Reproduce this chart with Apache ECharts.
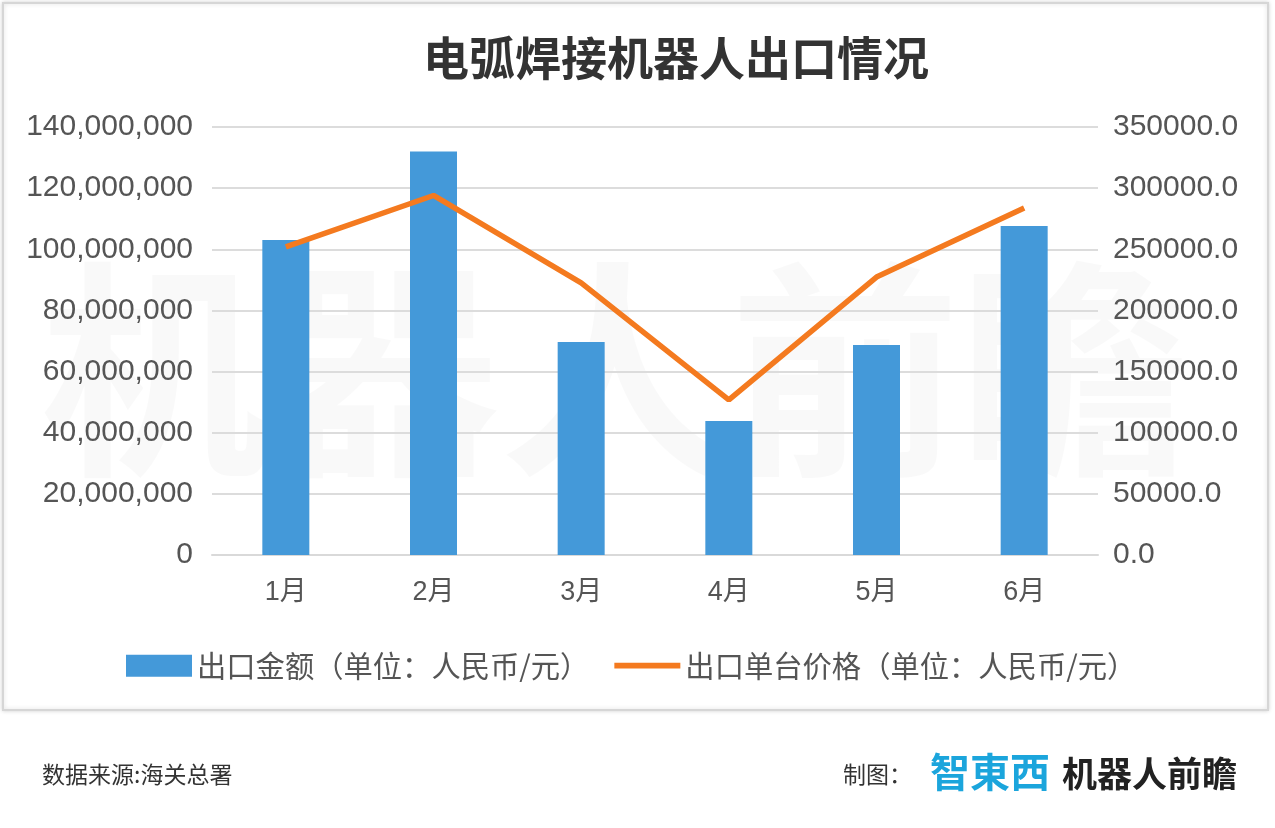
<!DOCTYPE html>
<html>
<head>
<meta charset="utf-8">
<script src="https://cdn.jsdelivr.net/npm/echarts@6/dist/echarts.min.js"></script>
<style>
  html, body { margin: 0; padding: 0; background: #fff; }
  #chart { width: 1275px; height: 828px; }
</style>
</head>
<body>
<div id="chart"></div>
<script>
const months = ['1月', '2月', '3月', '4月', '5月', '6月']
const exportAmount = [103000000, 132000000, 69700000, 43800000, 68700000, 107600000]
const unitPrice = [252000, 294000, 222500, 126800, 227300, 283800]
const amountName = '出口金额（单位：人民币/元）'
const priceName = '出口单台价格（单位：人民币/元）'

const FONT = '"Liberation Sans", "Noto Sans CJK SC", sans-serif'
const CJK = '"Noto Sans CJK SC", sans-serif'

const chart = echarts.init(document.getElementById('chart'))

const option = {
  backgroundColor: '#fff',
  animation: false,
  textStyle: { fontFamily: FONT },
  title: {
    text: '电弧焊接机器人出口情况',
    left: 418,
    top: 30,
    textStyle: { fontFamily: CJK, fontSize: 46, fontWeight: 'bold', color: '#333' }
  },
  grid: { left: 212, right: 177, top: 127, bottom: 273, containLabel: false },
  legend: {
    top: 646,
    left: 121,
    itemGap: 25,
    itemWidth: 66,
    itemHeight: 22,
    textStyle: { fontFamily: CJK, fontSize: 29.3, color: '#555' },
    data: [
      { name: amountName, icon: 'rect', itemStyle: { color: '#4499d9' } },
      { name: priceName, icon: 'path://M0,0 L68,0 L68,6 L0,6 Z', itemStyle: { color: '#f47a1f' } }
    ]
  },
  xAxis: {
    type: 'category',
    data: months,
    axisLine: { show: true, lineStyle: { color: '#d9d9d9', width: 2 } },
    axisTick: { show: false },
    axisLabel: { fontFamily: FONT, fontSize: 27, color: '#555', margin: 24 }
  },
  yAxis: [
    {
      type: 'value',
      min: 0,
      max: 140000000,
      interval: 20000000,
      axisLine: { show: false },
      axisTick: { show: false },
      axisLabel: {
        fontSize: 30, color: '#555', margin: 19,
        formatter: v => v.toLocaleString('en-US')
      },
      splitLine: { lineStyle: { color: '#dcdcdc', width: 2 } }
    },
    {
      type: 'value',
      min: 0,
      max: 350000,
      interval: 50000,
      axisLine: { show: false },
      axisTick: { show: false },
      axisLabel: {
        fontSize: 30, color: '#555', margin: 15,
        formatter: v => v.toFixed(1)
      },
      splitLine: { show: false }
    }
  ],
  series: [
    {
      name: amountName,
      type: 'bar',
      data: exportAmount,
      barWidth: 47,
      itemStyle: { color: '#4499d9' }
    },
    {
      name: priceName,
      type: 'line',
      yAxisIndex: 1,
      data: unitPrice,
      symbol: 'none',
      lineStyle: { color: '#f47a1f', width: 5.5 },
      itemStyle: { color: '#f47a1f' }
    }
  ],
  graphic: [
    {
      type: 'rect',
      z: -10,
      shape: { x: 3, y: 3, width: 1265, height: 707 },
      style: { fill: '#fff', stroke: '#d6d6d6', lineWidth: 2,
        shadowBlur: 4, shadowColor: 'rgba(0,0,0,0.15)' }
    },
    {
      type: 'text',
      z: -5,
      left: 40,
      top: 255,
      style: {
        text: '机器人前瞻',
        font: 'bold 230px "Noto Sans CJK SC"',
        fill: 'rgba(0,0,0,0.025)'
      }
    },
    {
      type: 'text',
      left: 42,
      top: 763,
      style: { text: '数据来源:海关总署', font: '23px "Noto Sans CJK SC"', fill: '#333' }
    },
    {
      type: 'text',
      left: 843,
      top: 763,
      style: { text: '制图：', font: '23px "Noto Sans CJK SC"', fill: '#333' }
    },
    {
      type: 'text',
      left: 930,
      top: 752,
      style: { text: '智東西', font: 'bold 40px "Noto Sans CJK SC"', fill: '#1ba5dc' }
    },
    {
      type: 'text',
      left: 1062,
      top: 756,
      style: { text: '机器人前瞻', font: 'bold 35px "Noto Sans CJK SC"', fill: '#222' }
    }
  ]
}

chart.setOption(option)
window.addEventListener('resize', () => chart.resize())
</script>
</body>
</html>
